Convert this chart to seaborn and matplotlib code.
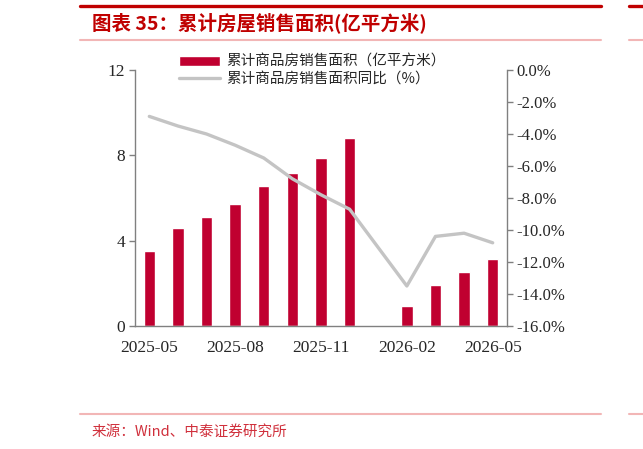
import matplotlib.pyplot as plt
import seaborn as sns
import pandas as pd
import numpy as np
from matplotlib.lines import Line2D

# DATA
months = ['2025-05', '2025-06', '2025-07', '2025-08', '2025-09', '2025-10', '2025-11',
          '2025-12', '2026-01', '2026-02', '2026-03', '2026-04', '2026-05']
area = [3.53, 4.58, 5.13, 5.73, 6.58, 7.16, 7.87, 8.81, np.nan, 0.94, 1.92, 2.51, 3.13]
yoy = [-2.9, -3.5, -4.0, -4.7, -5.5, -6.8, -7.8, -8.7, np.nan, -13.5, -10.4, -10.2, -10.8]
shown_months = ['2025-05', '2025-08', '2025-11', '2026-02', '2026-05']
bar_label = '累计商品房销售面积（亿平方米）'
line_label = '累计商品房销售面积同比（%）'
title = '图表 35：累计房屋销售面积(亿平方米)'
source = '来源：Wind、中泰证券研究所'

W, H = 643, 449


def fx(px):
    return px / W


def fy(py):
    return 1 - py / H


if __name__ == "__main__":
    df = pd.DataFrame({'month': months, 'pos': np.arange(len(months)), 'area': area, 'yoy': yoy})

    sns.set_theme(style="white")
    plt.rcParams['font.family'] = ['Liberation Serif', 'Noto Sans CJK SC']
    cjk = ['Noto Sans CJK SC', 'DejaVu Sans']
    axis_grey = '#808080'

    fig = plt.figure(figsize=(W / 100, H / 100), dpi=100)
    ax = fig.add_axes([fx(135), fy(326), fx(507) - fx(135), fy(70) - fy(326)])
    ax2 = ax.twinx()

    # bars - cumulative area
    sns.barplot(data=df, x='month', y='area', order=months, color='#C00030',
                saturation=1, width=0.4, ax=ax)
    # line - yoy, skip the missing month
    line_df = df.dropna(subset=['yoy'])
    sns.lineplot(data=line_df, x='pos', y='yoy', color='#C4C4C4', linewidth=2.4, ax=ax2)

    ax.set_xlim(-0.5, len(months) - 0.5)
    ax.set_ylim(0, 12)
    ax.set_yticks([0, 4, 8, 12])
    ax2.set_ylim(-16, 0)
    ax2.set_yticks(np.arange(-16, 0.1, 2))
    ax2.set_yticklabels([f'{v:.1f}%' for v in np.arange(-16, 0.1, 2)])

    # labels at category centres, tick marks at category edges
    label_pos = [months.index(m) for m in shown_months]
    ax.set_xticks(label_pos)
    ax.set_xticklabels(shown_months)
    ax.set_xticks([p - 0.5 for p in label_pos], minor=True)
    ax.tick_params(axis='x', which='major', length=0, pad=10, labelsize=12.5)
    ax.tick_params(axis='x', which='minor', length=4, width=1, color=axis_grey, direction='out')
    ax.tick_params(axis='y', length=4, width=1, color=axis_grey, pad=3, labelsize=12.5, left=True)
    ax2.tick_params(axis='y', length=4, width=1, color=axis_grey, pad=3, labelsize=12, right=True)
    ax.set_xlabel('')
    ax.set_ylabel('')
    ax2.set_xlabel('')
    ax2.set_ylabel('')

    for a in (ax, ax2):
        for s in a.spines.values():
            s.set_visible(False)
    ax.spines['left'].set_visible(True)
    ax.spines['bottom'].set_visible(True)
    ax2.spines['right'].set_visible(True)
    for s in (ax.spines['left'], ax.spines['bottom'], ax2.spines['right']):
        s.set_color(axis_grey)
        s.set_linewidth(1)

    # legend
    fig.legend(handles=[ax.containers[0], ax2.lines[0]], labels=[bar_label, line_label],
               loc='upper left', bbox_to_anchor=(fx(179), fy(55)), frameon=False,
               borderpad=0, borderaxespad=0, handlelength=2.8, handleheight=0.7,
               handletextpad=0.45, labelspacing=0.2, prop={'family': cjk, 'size': 10.5})

    # header / footer decoration
    red = '#C00000'
    pink = '#F2B6B6'
    for x0, x1 in [(80, 601), (629, 643)]:
        fig.add_artist(Line2D([fx(x0), fx(x1)], [fy(6), fy(6)], color=red, lw=2.4))
        fig.add_artist(Line2D([fx(x0), fx(x1)], [fy(40), fy(40)], color=pink, lw=1.5))
        fig.add_artist(Line2D([fx(x0), fx(x1)], [fy(414), fy(414)], color=pink, lw=1.5))

    fig.text(fx(92), fy(23), title, color=red, fontsize=14, fontweight='bold',
             fontstyle='italic', va='center', ha='left', family=cjk)
    fig.text(fx(92), fy(432), source, color='#D0303C', fontsize=10.5,
             va='center', ha='left', family=cjk)

    plt.savefig('out.png', dpi=100)
